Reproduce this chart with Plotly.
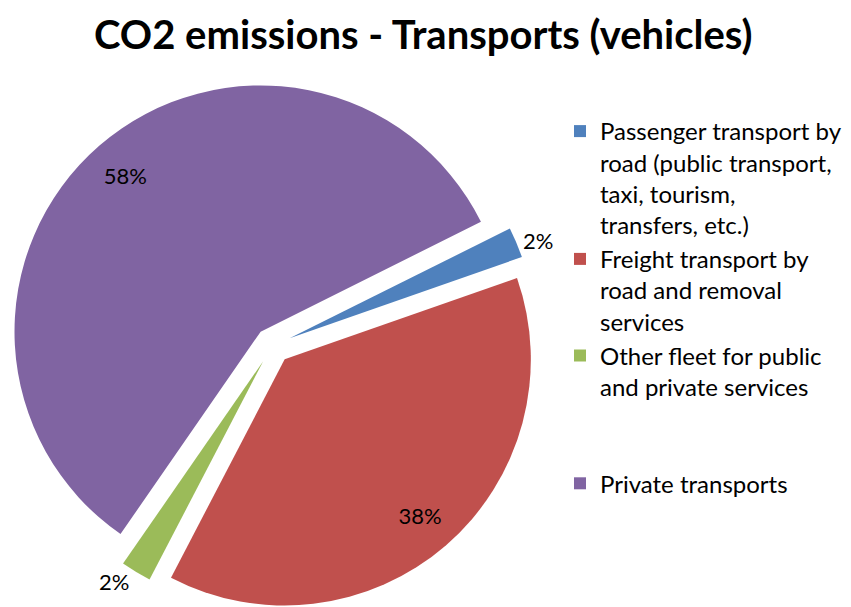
import plotly.graph_objects as go

labels = [
    "Passenger transport by<br>road (public transport,<br>taxi, tourism,<br>transfers, etc.)",
    "Freight transport by<br>road and removal<br>services",
    "Other fleet for public<br>and private services<br> <br> ",
    "Private transports",
]
values = [2, 38, 2, 58]
colors = ["#4F81BD", "#C0504D", "#9BBB59", "#8064A2"]
title_text = "CO2 emissions - Transports (vehicles)"

FONT = "Lato, 'Open Sans', sans-serif"
pull = [0.0745] * len(values)
rotation = 63.5
domain = dict(x=[0.0, 0.622], y=[0, 1])

fig = go.Figure()
fig.add_trace(go.Pie(
    labels=labels, values=values, sort=False, direction="clockwise",
    rotation=rotation, pull=pull, domain=domain,
    marker=dict(colors=colors, line=dict(width=0)),
    textinfo="percent", texttemplate="%{percent:.0%}",
    textposition=["outside", "none", "outside", "none"],
    textfont=dict(family=FONT, size=22, color="black"),
    hoverinfo="percent",
))
fig.add_trace(go.Pie(
    labels=labels, values=values, sort=False, direction="clockwise",
    rotation=rotation, pull=pull, domain=domain, hole=0.68,
    marker=dict(colors=["rgba(0,0,0,0)"] * len(values), line=dict(width=0)),
    textinfo="percent", texttemplate="%{percent:.0%}",
    textposition=["none", "inside", "none", "inside"],
    insidetextorientation="horizontal",
    textfont=dict(family=FONT, size=22, color="black"),
    showlegend=False, hoverinfo="skip",
))

fig.update_layout(
    width=851, height=607,
    paper_bgcolor="white", plot_bgcolor="white",
    margin=dict(l=0, r=0, t=73, b=5, autoexpand=False),
    title=dict(text="<b>" + title_text + "</b>", x=0.488, xanchor="center",
               y=1 - 27 / 607, yanchor="middle", yref="container",
               font=dict(family=FONT, size=40, color="black")),
    legend=dict(x=552 / 851, xanchor="left",
                y=(602 - 101) / 529, yanchor="top",
                valign="top", bgcolor="rgba(0,0,0,0)",
                font=dict(family=FONT, size=24, color="black"),
                traceorder="normal", itemclick=False),
    showlegend=True,
)

fig.write_html("out.html")
